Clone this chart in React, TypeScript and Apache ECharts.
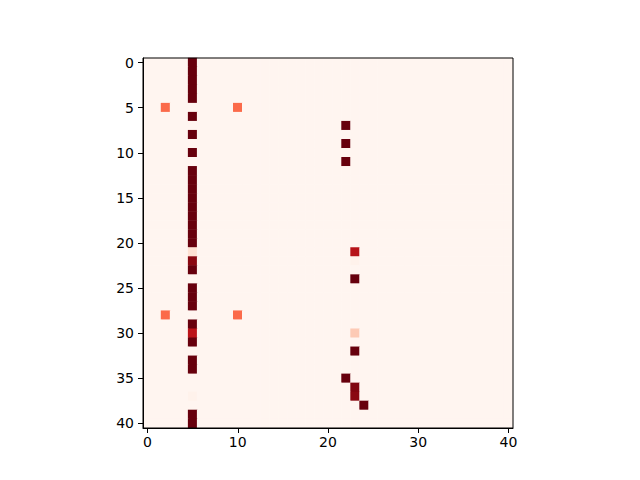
import React, { useEffect, useRef } from "react";
import * as echarts from "echarts";

const N = 41;
const indices: string[] = Array.from({ length: N }, (_, i) => String(i));

// Column 5 values, row 0..40
const column5Values: number[] = [
  1, 1, 1, 1, 1, 0, 1, 0, 1, 0,
  1, 0, 1, 1, 1, 1, 1, 1, 1, 1,
  1, 0.12, 0.93, 1, 0, 1, 1, 1, 0, 1,
  0.8, 1, 0, 1, 1, 0, 0, 0.02, 0, 1,
  1,
];

// Other non-zero cells: [row, col, value]
const otherCells: [number, number, number][] = [
  [5, 2, 0.5],
  [5, 10, 0.5],
  [28, 2, 0.5],
  [28, 10, 0.5],
  [7, 22, 1],
  [9, 22, 1],
  [11, 22, 1],
  [21, 23, 0.82],
  [22, 23, 0.02],
  [24, 23, 1],
  [30, 23, 0.2],
  [32, 23, 1],
  [35, 22, 1],
  [36, 23, 0.95],
  [37, 23, 0.93],
  [38, 24, 1],
];

const redsColors = [
  "#fff5f0", "#fee0d2", "#fcbba1", "#fc9272", "#fb6a4a",
  "#ef3b2c", "#cb181d", "#a50f15", "#67000d",
];

export default function App() {
  const ref = useRef<HTMLDivElement>(null);
  useEffect(() => {
    if (!ref.current) return;
    const chart = echarts.init(ref.current, null, { renderer: "svg" });
    const grid: number[][] = Array.from({ length: N }, () => new Array(N).fill(0));
    column5Values.forEach((v, r) => { grid[r][5] = v; });
    otherCells.forEach(([r, c, v]) => { grid[r][c] = v; });
    const data: [number, number, number][] = [];
    for (let r = 0; r < N; r++) for (let c = 0; c < N; c++) data.push([c, r, grid[r][c]]);

    const font = { fontFamily: "DejaVu Sans", fontSize: 14, color: "#000" };
    chart.setOption({
      animation: false,
      backgroundColor: "#fff",
      grid: {
        left: 143, top: 58, width: 370, height: 370,
        show: true, borderColor: "#000", borderWidth: 1, backgroundColor: "transparent",
        z: 10,
      },
      xAxis: {
        type: "category",
        data: indices,
        position: "bottom",
        axisLine: { show: true, lineStyle: { color: "#000", width: 1 } },
        axisTick: {
          show: true, alignWithLabel: true, length: 5,
          interval: (i: number) => i % 10 === 0,
          lineStyle: { color: "#000" },
        },
        axisLabel: { ...font, margin: 7, interval: (i: number) => i % 10 === 0 },
        splitLine: { show: false },
        z: 10,
      },
      yAxis: {
        type: "category",
        data: indices,
        inverse: true,
        axisLine: { show: true, lineStyle: { color: "#000", width: 1 } },
        axisTick: {
          show: true, alignWithLabel: true, length: 5,
          interval: (i: number) => i % 5 === 0,
          lineStyle: { color: "#000" },
        },
        axisLabel: { ...font, margin: 9, interval: (i: number) => i % 5 === 0 },
        splitLine: { show: false },
        z: 10,
      },
      visualMap: {
        show: false,
        type: "continuous",
        min: 0,
        max: 1,
        dimension: 2,
        inRange: { color: redsColors },
      },
      series: [
        {
          type: "heatmap",
          data,
          itemStyle: { borderWidth: 0 },
          emphasis: { disabled: true },
        },
      ],
    });
    return () => chart.dispose();
  }, []);
  return <div ref={ref} style={{ width: 640, height: 480, position: "absolute", left: 0, top: 0 }} />;
}
